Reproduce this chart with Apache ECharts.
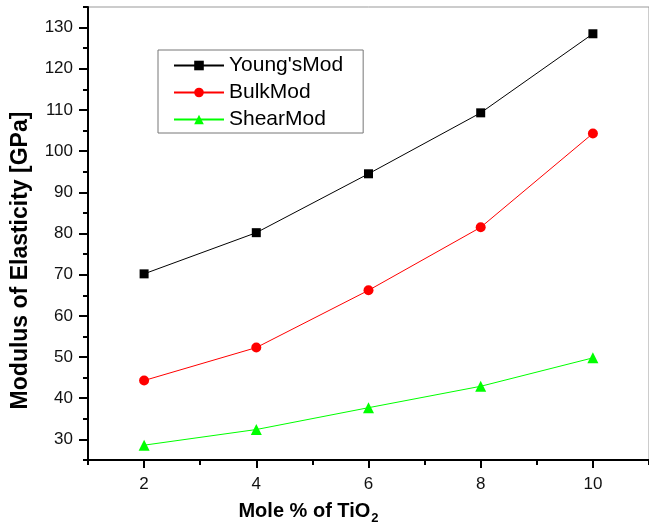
<!DOCTYPE html>
<html>
<head>
<meta charset="utf-8">
<script src="https://cdn.jsdelivr.net/npm/echarts@6/dist/echarts.min.js"></script>
<style>
  html, body { margin: 0; padding: 0; background: #fff; }
  #chart { width: 649px; height: 530px; }
</style>
</head>
<body>
<div id="chart"></div>
<script>
// Mole % of TiO2 and elastic moduli (GPa)
const moleFractions = [2, 4, 6, 8, 10];
const youngsMod = [70.2, 80.2, 94.5, 109.3, 128.5];
const bulkMod = [44.3, 52.3, 66.2, 81.5, 104.3];
const shearMod = [28.6, 32.4, 37.7, 42.9, 49.8];

// Axis tick positions
const xMajorTicks = [2, 4, 6, 8, 10];
const xMinorTicks = [1, 3, 5, 7, 9, 11];
const yMajorTicks = [30, 40, 50, 60, 70, 80, 90, 100, 110, 120, 130];
const yMinorTicks = [25, 35, 45, 55, 65, 75, 85, 95, 105, 115, 125, 135];

const seriesNames = ["Young'sMod", 'BulkMod', 'ShearMod'];

const FONT = "'Liberation Sans', Arial, sans-serif";
const pairs = vals => moleFractions.map((x, i) => [x, vals[i]]);

const chart = echarts.init(document.getElementById('chart'), null, { renderer: 'canvas' });

const axisLineStyle = { color: '#000', width: 2 };

chart.setOption({
  animation: false,
  backgroundColor: '#fff',
  grid: {
    left: 88, top: 7, right: -3, bottom: 70,
    show: true, borderColor: '#999', borderWidth: 1, backgroundColor: 'transparent'
  },
  legend: {
    orient: 'vertical',
    left: 158, top: 50,
    padding: [5, 20, 3, 15],
    itemGap: 6,
    itemWidth: 50,
    itemHeight: 12,
    borderColor: '#777',
    borderWidth: 1,
    textStyle: { fontSize: 21, color: '#000', fontFamily: FONT },
    data: seriesNames
  },
  xAxis: [
    {
      type: 'value', min: 1, max: 11, position: 'bottom',
      axisLine: { show: true, onZero: false, lineStyle: axisLineStyle },
      axisTick: { show: true, customValues: xMajorTicks, length: 8, lineStyle: axisLineStyle },
      axisLabel: { customValues: xMajorTicks, fontSize: 17, color: '#111', margin: 16, fontFamily: FONT },
      splitLine: { show: false },
      name: '{a|Mole % of TiO}{b|2}',
      nameLocation: 'middle',
      nameGap: 38,
      nameTextStyle: {
        padding: [0, 120, 0, 0],
        rich: {
          a: { fontSize: 20, fontWeight: 'bold', color: '#000', fontFamily: FONT },
          b: { fontSize: 13, fontWeight: 'bold', color: '#000', fontFamily: FONT, padding: [14, 0, 0, 1] }
        }
      }
    },
    {
      type: 'value', min: 1, max: 11, position: 'bottom',
      axisLine: { show: false },
      axisTick: { show: true, customValues: xMinorTicks, length: 5, lineStyle: axisLineStyle },
      axisLabel: { show: false },
      splitLine: { show: false }
    }
  ],
  yAxis: [
    {
      type: 'value', min: 25, max: 135, position: 'left',
      axisLine: { show: true, onZero: false, lineStyle: axisLineStyle },
      axisTick: { show: true, customValues: yMajorTicks, length: 9, lineStyle: axisLineStyle },
      axisLabel: { customValues: yMajorTicks, fontSize: 17, color: '#111', margin: 15, fontFamily: FONT },
      splitLine: { show: false },
      name: 'Modulus of Elasticity [GPa]',
      nameLocation: 'middle',
      nameRotate: 90,
      nameGap: 56,
      nameTextStyle: {
        fontSize: 23, fontWeight: 'bold', color: '#000', fontFamily: FONT,
        padding: [0, 54, 0, 0]
      }
    },
    {
      type: 'value', min: 25, max: 135, position: 'left',
      axisLine: { show: false },
      axisTick: { show: true, customValues: yMinorTicks, length: 5, lineStyle: axisLineStyle },
      axisLabel: { show: false },
      splitLine: { show: false }
    }
  ],
  series: [
    {
      name: seriesNames[0], type: 'line', xAxisIndex: 0, yAxisIndex: 0,
      data: pairs(youngsMod),
      symbol: 'rect', symbolSize: 9,
      itemStyle: { color: '#000' },
      lineStyle: { color: '#000', width: 1 }
    },
    {
      name: seriesNames[1], type: 'line', xAxisIndex: 0, yAxisIndex: 0,
      data: pairs(bulkMod),
      symbol: 'circle', symbolSize: 10,
      itemStyle: { color: '#ff0000' },
      lineStyle: { color: '#ff0000', width: 1 }
    },
    {
      name: seriesNames[2], type: 'line', xAxisIndex: 0, yAxisIndex: 0,
      data: pairs(shearMod),
      symbol: 'triangle', symbolSize: 11,
      itemStyle: { color: '#00ff00' },
      lineStyle: { color: '#00ff00', width: 1 }
    }
  ]
});
</script>
</body>
</html>
